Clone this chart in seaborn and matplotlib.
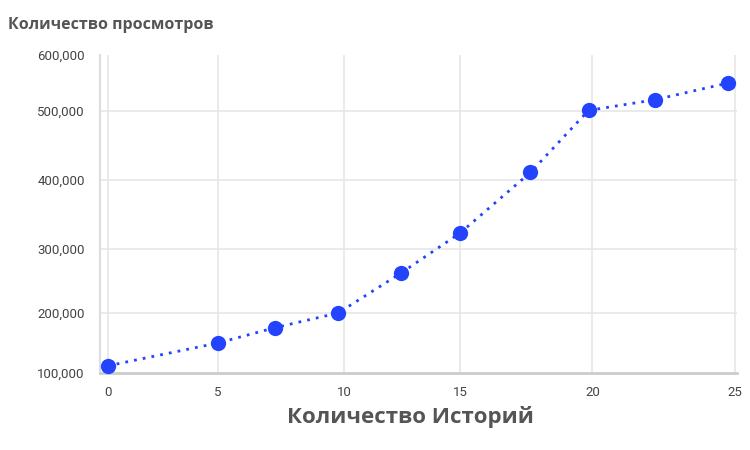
import numpy as np
import matplotlib
matplotlib.use("Agg")
import matplotlib.pyplot as plt
import seaborn as sns
import pandas as pd

# Data
stories = [0, 5, 7.26, 9.77, 12.44, 15, 17.66, 19.85, 22.18, 24.76]
views = [112000, 150000, 175500, 200000, 262000, 323000, 411000, 501000, 520000, 550000]
x_ticks = [0, 5, 10, 15, 20, 25]
y_ticks = [100000, 200000, 300000, 400000, 500000, 600000]
y_title = "Количество просмотров"
x_title = "Количество Историй"

# Axis spacing as drawn in the reference (non-uniform tick spacing)
x_tick_pos = [108, 218, 344, 460, 592.5, 735]
y_tick_pos = [77, 137, 201, 270, 339, 395]

def make_scale(vals, pos):
    v = np.array(vals, float)
    p = np.array(pos, float)
    v_ext = np.concatenate([[v[0] - (v[1] - v[0]) * 10], v, [v[-1] + (v[-1] - v[-2]) * 10]])
    p_ext = np.concatenate([[p[0] - (p[1] - p[0]) * 10], p, [p[-1] + (p[-1] - p[-2]) * 10]])
    fwd = lambda a: np.interp(a, v_ext, p_ext)
    inv = lambda a: np.interp(a, p_ext, v_ext)
    return fwd, inv

df = pd.DataFrame({"x": stories, "y": views})

sns.set_theme(style="white")
plt.rcParams["font.family"] = ["Roboto", "DejaVu Sans"]

fig = plt.figure(figsize=(7.5, 4.5), dpi=100)
ax = fig.add_axes([100 / 750, (450 - 373) / 450, 637 / 750, 318 / 450])

ax.set_xscale("function", functions=make_scale(x_ticks, x_tick_pos))
ax.set_yscale("function", functions=make_scale(y_ticks, y_tick_pos))

color = "#2443ff"
sns.lineplot(data=df, x="x", y="y", ax=ax, color=color, linewidth=2.0,
             linestyle=(0, (1, 2.2)), marker="o", markersize=11,
             markeredgewidth=0, markerfacecolor=color, zorder=3, clip_on=False)

ax.set_xlim(-0.36, 25.07)
ax.set_ylim(100000, 600000)
ax.set_xticks(x_ticks)
ax.set_xticklabels([str(t) for t in x_ticks])
ax.set_yticks(y_ticks)
ax.set_yticklabels([f"{t:,}" for t in y_ticks])
ax.tick_params(axis="both", length=0, labelsize=9.5, labelcolor="#444444")
ax.tick_params(axis="y", pad=11)
ax.tick_params(axis="x", pad=9)

ax.xaxis.grid(True, color="#e6e6e6", linewidth=1.2)
ax.yaxis.grid(False)
for v in y_ticks[1:-1]:
    ax.axhline(v, color="#e6e6e6", linewidth=1.2, zorder=0.5)
ax.set_axisbelow(True)
for s in ["top", "right"]:
    ax.spines[s].set_visible(False)
ax.spines["left"].set_color("#dddddd")
ax.spines["left"].set_linewidth(1.5)
ax.spines["bottom"].set_color("#cccccc")
ax.spines["bottom"].set_linewidth(2)
ax.set_xlabel("")
ax.set_ylabel("")

fig.text(8 / 750, 1 - 25 / 450, y_title, fontsize=11.5, fontweight="bold",
         family=["Open Sans", "DejaVu Sans"], color="#555555", ha="left", va="center")
fig.text(410 / 750, 1 - 417 / 450, x_title, fontsize=16, fontweight="bold",
         family=["Open Sans", "DejaVu Sans"], color="#555555", ha="center", va="center")

fig.savefig("out.png", dpi=100)
